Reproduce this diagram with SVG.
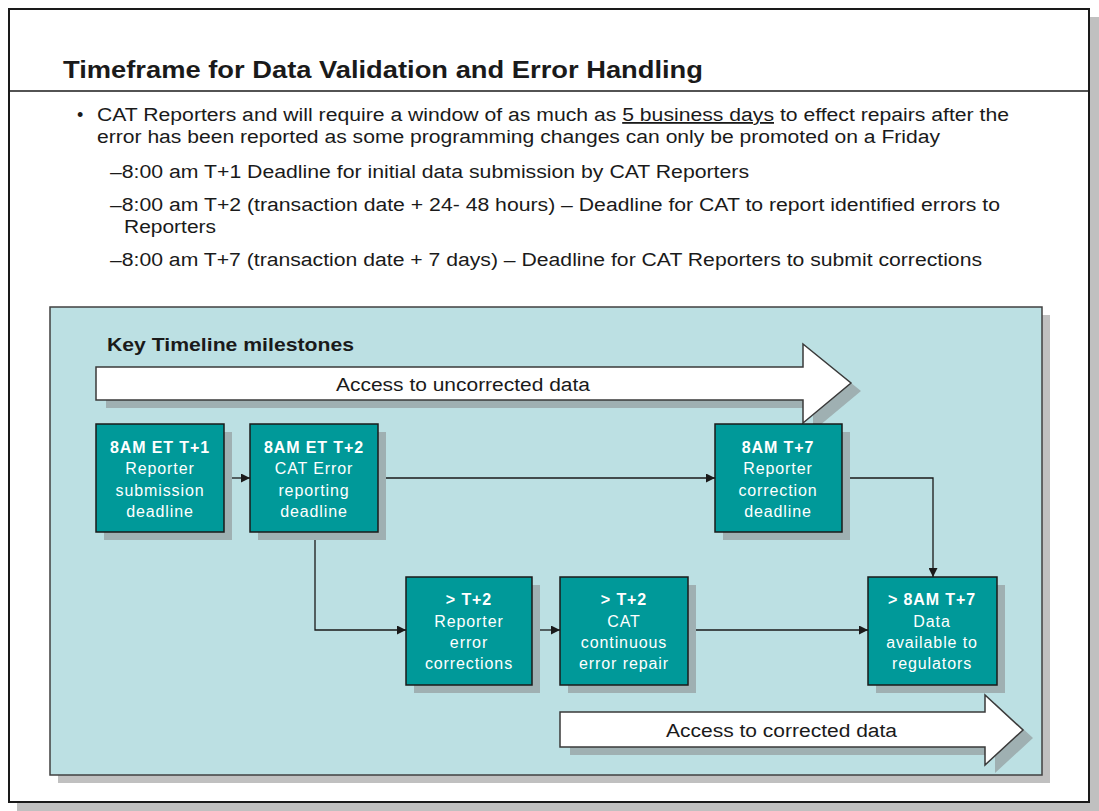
<svg xmlns="http://www.w3.org/2000/svg" width="1099" height="811" viewBox="0 0 1099 811">
<defs>
<style>
.t{font-family:"Liberation Sans",Arial,sans-serif;fill:#1a1a1a}
.nt{font-family:"Liberation Sans",Arial,sans-serif;fill:#ffffff;font-size:16px;text-anchor:middle;letter-spacing:0.9px}
.nb{font-weight:bold}
.node{fill:#009999;stroke:#1a1a1a;stroke-width:1.5}
.sh{fill:#9fb0b2}
.conn{fill:none;stroke:#1a1a1a;stroke-width:1.3}
.arrow{fill:#ffffff;stroke:#3a3a3a;stroke-width:1.5}
</style>
<marker id="ah" viewBox="0 0 10 10" refX="10" refY="5" markerWidth="9" markerHeight="9" markerUnits="userSpaceOnUse" orient="auto">
<path d="M0,0 L10,5 L0,10 z" fill="#1a1a1a"/>
</marker>
</defs>
<rect width="1099" height="811" fill="#ffffff"/>
<!-- outer frame -->
<rect x="17" y="17" width="1082" height="794" fill="#c0c0c0"/>
<rect x="9" y="9" width="1080" height="793" fill="#ffffff" stroke="#1a1a1a" stroke-width="2"/>
<line x1="9" y1="91" x2="1089" y2="91" stroke="#1a1a1a" stroke-width="1.5"/>
<text class="t" x="63" y="78" font-size="24" font-weight="bold" fill="#000" textLength="640" lengthAdjust="spacingAndGlyphs">Timeframe for Data Validation and Error Handling</text>
<!-- bullets -->
<g class="t" font-size="18">
<text x="77" y="121">•</text>
<text x="97" y="121" textLength="912" lengthAdjust="spacingAndGlyphs">CAT Reporters and will require a window of as much as <tspan text-decoration="underline">5 business days</tspan> to effect repairs after the</text>
<text x="97" y="143" textLength="843" lengthAdjust="spacingAndGlyphs">error has been reported as some programming changes can only be promoted on a Friday</text>
<text x="110" y="178" textLength="639" lengthAdjust="spacingAndGlyphs">–8:00 am T+1 Deadline for initial data submission by CAT Reporters</text>
<text x="110" y="211" textLength="890" lengthAdjust="spacingAndGlyphs">–8:00 am T+2 (transaction date + 24- 48 hours) – Deadline for CAT to report identified errors to</text>
<text x="124" y="233" textLength="92" lengthAdjust="spacingAndGlyphs">Reporters</text>
<text x="110" y="266" textLength="872" lengthAdjust="spacingAndGlyphs">–8:00 am T+7 (transaction date + 7 days) – Deadline for CAT Reporters to submit corrections</text>
</g>
<!-- panel -->
<rect x="58" y="315" width="992" height="468" fill="#c0c0c0"/>
<rect x="50" y="307" width="992" height="468" fill="#bce0e3" stroke="#404040" stroke-width="1.5"/>
<text class="t" x="107" y="351" font-size="18" font-weight="bold" textLength="247" lengthAdjust="spacingAndGlyphs">Key Timeline milestones</text>
<!-- big arrows -->
<g id="arrow-uncorrected">
<path class="sh" d="M106,375 L813,375 L813,352 L861,391 L813,431 L813,408 L106,408 z"/>
<path class="arrow" d="M96,367 L803,367 L803,344 L851,383 L803,423 L803,400 L96,400 z"/>
<text class="t" x="336" y="391" font-size="18" textLength="254" lengthAdjust="spacingAndGlyphs">Access to uncorrected data</text>
</g>
<g id="arrow-corrected">
<path class="sh" d="M570,720 L995,720 L995,703 L1033,738 L995,773 L995,755 L570,755 z"/>
<path class="arrow" d="M560,712 L985,712 L985,695 L1023,730 L985,765 L985,747 L560,747 z"/>
<text class="t" x="666" y="737" font-size="18" textLength="231" lengthAdjust="spacingAndGlyphs">Access to corrected data</text>
</g>
<!-- connectors -->
<g id="connectors">
<line class="conn" x1="224" y1="478" x2="250" y2="478" marker-end="url(#ah)"/>
<line class="conn" x1="378" y1="478" x2="715" y2="478" marker-end="url(#ah)"/>
<polyline class="conn" points="315,532 315,630 406,630" marker-end="url(#ah)"/>
<line class="conn" x1="532" y1="630" x2="560" y2="630" marker-end="url(#ah)"/>
<line class="conn" x1="688" y1="630" x2="868" y2="630" marker-end="url(#ah)"/>
<polyline class="conn" points="842,478 933,478 933,577" marker-end="url(#ah)"/>
</g>
<!-- nodes -->
<g id="node-t1">
<rect class="sh" x="104" y="432" width="128" height="108"/>
<rect class="node" x="96" y="424" width="128" height="108"/>
<text class="nt" x="160"><tspan class="nb" x="160" y="453">8AM ET T+1</tspan><tspan x="160" y="474">Reporter</tspan><tspan x="160" y="496">submission</tspan><tspan x="160" y="517">deadline</tspan></text>
</g>
<g id="node-t2">
<rect class="sh" x="258" y="432" width="128" height="108"/>
<rect class="node" x="250" y="424" width="128" height="108"/>
<text class="nt" x="314"><tspan class="nb" x="314" y="453">8AM ET T+2</tspan><tspan x="314" y="474">CAT Error</tspan><tspan x="314" y="496">reporting</tspan><tspan x="314" y="517">deadline</tspan></text>
</g>
<g id="node-t7">
<rect class="sh" x="723" y="432" width="127" height="108"/>
<rect class="node" x="715" y="424" width="127" height="108"/>
<text class="nt" x="778"><tspan class="nb" x="778" y="453">8AM T+7</tspan><tspan x="778" y="474">Reporter</tspan><tspan x="778" y="496">correction</tspan><tspan x="778" y="517">deadline</tspan></text>
</g>
<g id="node-rep-corr">
<rect class="sh" x="414" y="585" width="126" height="108"/>
<rect class="node" x="406" y="577" width="126" height="108"/>
<text class="nt" x="469"><tspan class="nb" x="469" y="605">&gt; T+2</tspan><tspan x="469" y="627">Reporter</tspan><tspan x="469" y="648">error</tspan><tspan x="469" y="669">corrections</tspan></text>
</g>
<g id="node-cat-repair">
<rect class="sh" x="568" y="585" width="128" height="108"/>
<rect class="node" x="560" y="577" width="128" height="108"/>
<text class="nt" x="624"><tspan class="nb" x="624" y="605">&gt; T+2</tspan><tspan x="624" y="627">CAT</tspan><tspan x="624" y="648">continuous</tspan><tspan x="624" y="669">error repair</tspan></text>
</g>
<g id="node-data">
<rect class="sh" x="876" y="585" width="129" height="108"/>
<rect class="node" x="868" y="577" width="129" height="108"/>
<text class="nt" x="932"><tspan class="nb" x="932" y="605">&gt; 8AM T+7</tspan><tspan x="932" y="627">Data</tspan><tspan x="932" y="648">available to</tspan><tspan x="932" y="669">regulators</tspan></text>
</g>
</svg>
